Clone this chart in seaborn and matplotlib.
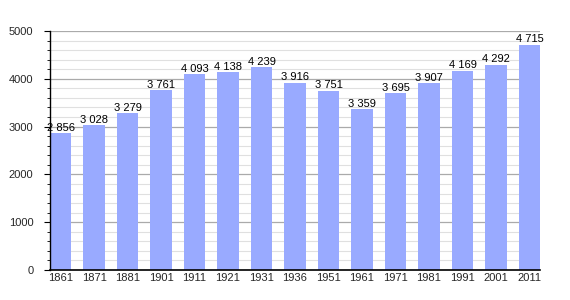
import matplotlib
matplotlib.use("Agg")
import matplotlib.pyplot as plt
import seaborn as sns
import pandas as pd
from matplotlib.ticker import MultipleLocator

years = ["1861", "1871", "1881", "1901", "1911", "1921", "1931", "1936",
         "1951", "1961", "1971", "1981", "1991", "2001", "2011"]
population = [2856, 3028, 3279, 3761, 4093, 4138, 4239, 3916,
              3751, 3359, 3695, 3907, 4169, 4292, 4715]

df = pd.DataFrame({"year": years, "pop": population})

sns.set_style("white")
plt.rcParams["font.family"] = ["Liberation Sans", "DejaVu Sans"]

fig = plt.figure(figsize=(5.7, 3.0), dpi=100)
ax = fig.add_axes([50/570, 1-270/300, 490/570, 239/300])

sns.barplot(data=df, x="year", y="pop", color="#99aaff", saturation=1,
            width=0.63, ax=ax, zorder=3, linewidth=0, edgecolor="none")

ax.set_ylim(0, 5000)
ax.set_xlim(-0.315, len(years) - 1 + 0.315)
ax.yaxis.set_major_locator(MultipleLocator(1000))
ax.yaxis.set_minor_locator(MultipleLocator(200))
ax.grid(which="major", axis="y", color="#aaaaaa", linewidth=0.9, zorder=0)
ax.grid(which="minor", axis="y", color="#e0e0e0", linewidth=0.8, zorder=0)
ax.set_axisbelow(True)

for s in ["top", "right"]:
    ax.spines[s].set_visible(False)
ax.spines["left"].set_color("black")
ax.spines["bottom"].set_color("black")
ax.spines["left"].set_linewidth(1.0)
ax.spines["bottom"].set_linewidth(1.2)
ax.spines["bottom"].set_zorder(5)
ax.spines["left"].set_zorder(5)

ax.tick_params(axis="y", which="major", length=4, width=0.8, left=True,
               labelsize=8, pad=8, color="black")
ax.tick_params(axis="y", which="minor", length=2.5, width=0.6, left=True, color="black")
ax.tick_params(axis="x", length=0, labelsize=8, pad=2)

ax.set_xlabel("")
ax.set_ylabel("")

for i, v in enumerate(population):
    lab = f"{v:,}".replace(",", " ")
    ax.text(i, v + 10, lab, ha="center", va="bottom", fontsize=8, color="black", zorder=4)

fig.savefig("out.png", dpi=100)
